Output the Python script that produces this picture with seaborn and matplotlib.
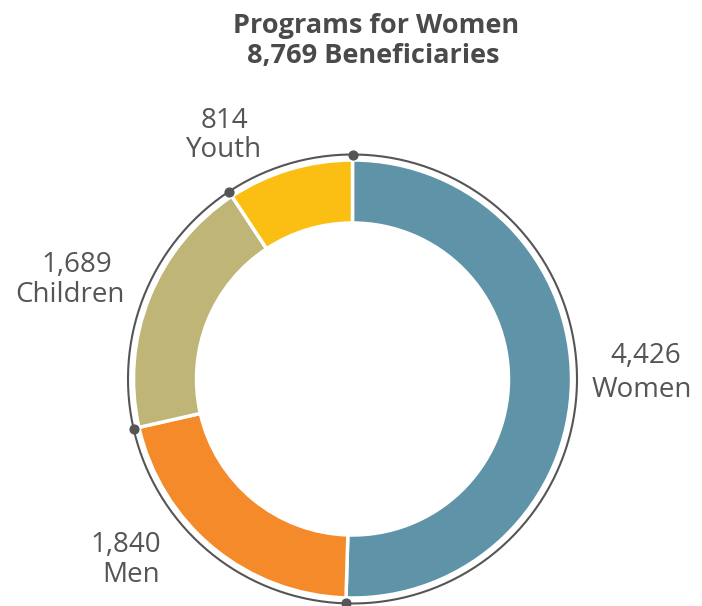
import numpy as np
import matplotlib
matplotlib.use("Agg")
import matplotlib.pyplot as plt
import seaborn as sns

# ---- data ----
categories = ["Women", "Men", "Children", "Youth"]
values = [4426, 1840, 1689, 814]
value_labels = ["4,426", "1,840", "1,689", "814"]
title_lines = ["Programs for Women", "8,769 Beneficiaries"]
colors = ["#5e93a8", "#f58a2a", "#bfb577", "#fbbf14"]

sns.set_theme(style="white")
plt.rcParams["font.family"] = ["Open Sans", "DejaVu Sans"]

W, H = 702, 606
fig = plt.figure(figsize=(W / 100, H / 100), dpi=100)
ax = fig.add_axes([0, 0, 1, 1])

cx, cy = 352.5, H - 379
R = 219
ring_w = 63
ax.pie(values, radius=R, center=(cx, cy), startangle=90, counterclock=False,
       colors=colors, wedgeprops=dict(width=ring_w, edgecolor="white", linewidth=2.5))

# outer thin ring
Rr = 224.5
t = np.linspace(0, 2 * np.pi, 500)
ax.plot(cx + Rr * np.cos(t), cy + Rr * np.sin(t), color="#555555", lw=1.5, zorder=3)

# dots at slice boundaries
total = sum(values)
bounds = np.concatenate([[0], np.cumsum(values)[:-1]]) / total * 360.0
ang = np.deg2rad(90 - bounds)
ax.scatter(cx + Rr * np.cos(ang), cy + Rr * np.sin(ang), s=40, color="#555555", zorder=4)

# labels: (x_center, number baseline, name x_center, name baseline) in image px
label_layout = {
    "Women": (646, 363, 642, 397),
    "Men": (126, 552, 131, 582),
    "Children": (77, 272, 70, 302),
    "Youth": (224, 128, 224, 157),
}
txt_color = "#555555"
for cat, vl in zip(categories, value_labels):
    nx, ny, tx, ty = label_layout[cat]
    ax.text(nx, H - ny, vl, ha="center", va="baseline", fontsize=20,
            color=txt_color, fontweight="normal")
    ax.text(tx, H - ty, cat, ha="center", va="baseline", fontsize=20,
            color=txt_color, fontweight="normal")

ax.text(376, H - 33, title_lines[0], ha="center", va="baseline", fontsize=19.5,
        fontweight="bold", color="#4a4a4a")
ax.text(373, H - 63, title_lines[1], ha="center", va="baseline", fontsize=19.5,
        fontweight="bold", color="#4a4a4a")

ax.set_xlim(0, W)
ax.set_ylim(0, H)
ax.set_aspect("equal")
ax.axis("off")
fig.savefig("out.png", dpi=100)
